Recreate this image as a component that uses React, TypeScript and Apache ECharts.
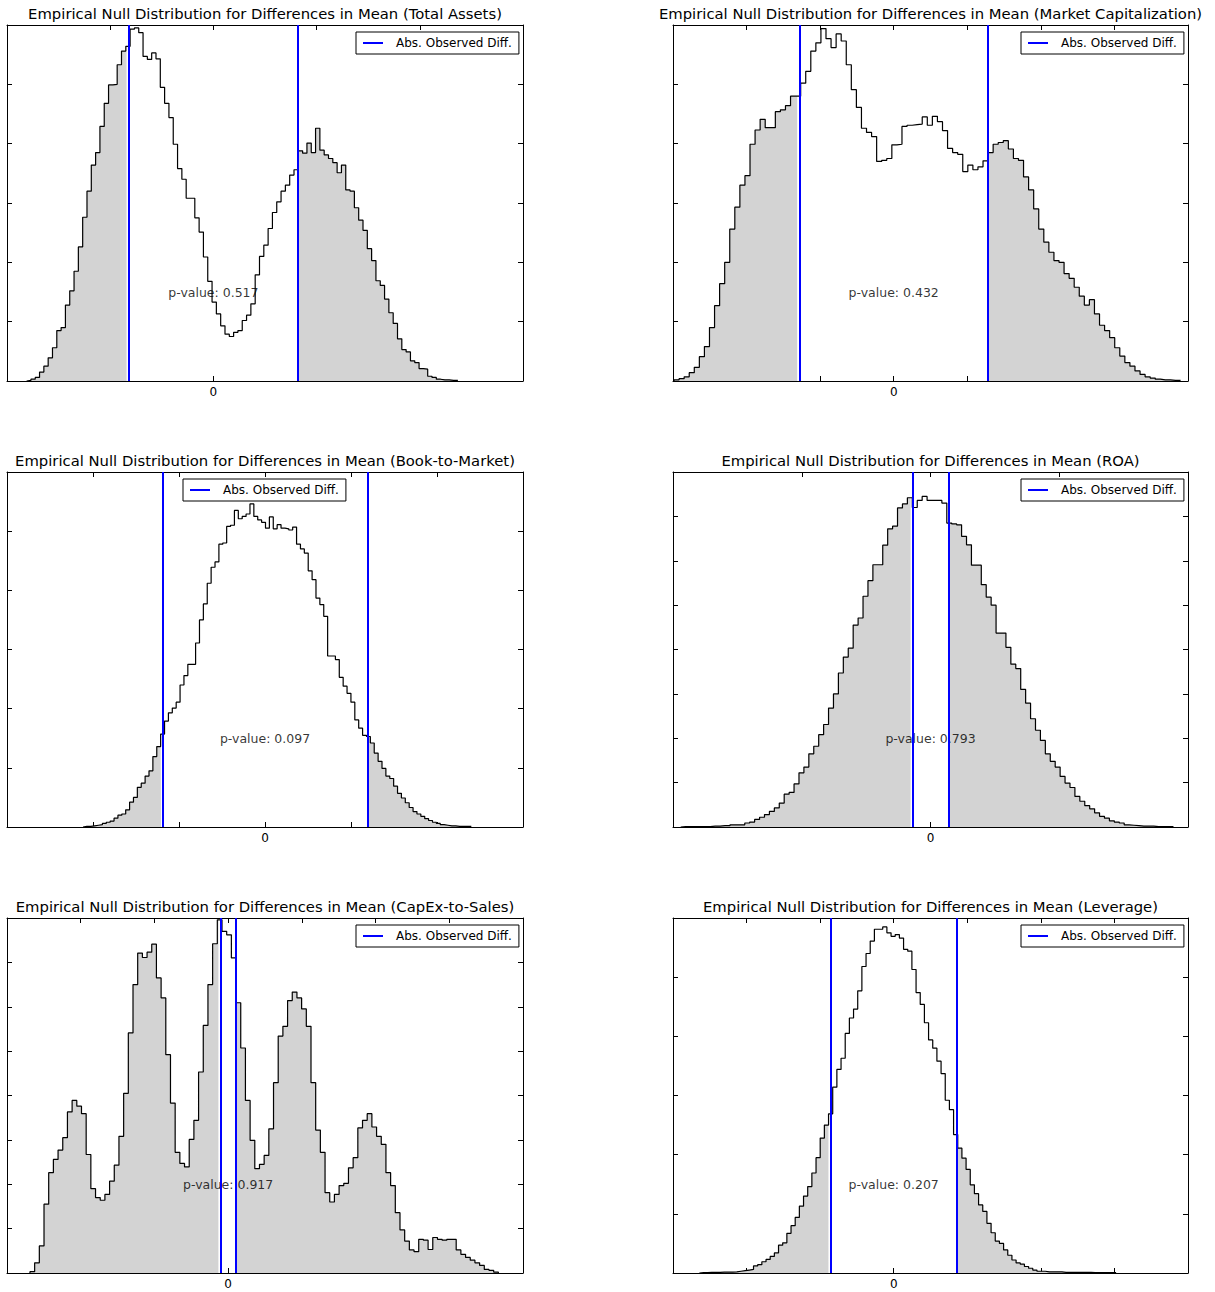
import React, { useEffect, useRef } from "react";
import * as echarts from "echarts";

const FONT = "'DejaVu Sans', 'Liberation Sans', sans-serif";

const titles = [
  "Empirical Null Distribution for Differences in Mean (Total Assets)",
  "Empirical Null Distribution for Differences in Mean (Market Capitalization)",
  "Empirical Null Distribution for Differences in Mean (Book-to-Market)",
  "Empirical Null Distribution for Differences in Mean (ROA)",
  "Empirical Null Distribution for Differences in Mean (CapEx-to-Sales)",
  "Empirical Null Distribution for Differences in Mean (Leverage)",
];

const legendName = "Abs. Observed Diff.";
const pValues = ["0.517", "0.432", "0.097", "0.793", "0.917", "0.207"];
const observedDiff = [0.822, 1.285, 1.186, 0.139, 0.105, 0.86];

// axis extents (in tick units) and bin ranges
const xMins = [-2, -3, -3, -2, -3, -3];
const xMaxs = [3, 4, 3, 2, 4, 4];
const yMaxs = [6, 6, 6, 8, 8, 6];
const binLo = [-1.81, -2.986, -2.1165, -1.94, -2.6885, -2.642];
const binHi = [2.369, 3.899, 2.399, 1.887, 3.6656, 3.023];

const totalAssets = [
  0.01, 0.03, 0.06, 0.15, 0.25, 0.39, 0.56, 0.85, 0.9, 1.28,
  1.52, 1.85, 2.26, 2.76, 3.2, 3.64, 3.85, 4.29, 4.68, 4.99,
  5.0, 5.33, 5.56, 5.64, 5.93, 5.95, 5.87, 5.47, 5.42, 5.53,
  5.43, 4.95, 4.68, 4.44, 3.99, 3.58, 3.4, 3.08, 3.08, 2.75,
  2.51, 2.09, 1.68, 1.33, 1.13, 0.93, 0.79, 0.75, 0.82, 0.85,
  1.02, 1.11, 1.3, 1.79, 2.1, 2.29, 2.57, 2.84, 3.02, 3.2,
  3.3, 3.47, 3.56, 3.88, 3.84, 4.01, 3.85, 4.26, 3.89, 3.81,
  3.75, 3.68, 3.51, 3.64, 3.22, 3.2, 2.92, 2.71, 2.54, 2.23,
  2.03, 1.69, 1.61, 1.38, 1.15, 0.97, 0.71, 0.53, 0.49, 0.34,
  0.31, 0.21, 0.2, 0.08, 0.06, 0.03, 0.02, 0.02, 0.01, 0.01,
];

const marketCap = [
  0.02, 0.04, 0.07, 0.14, 0.23, 0.41, 0.58, 0.9, 1.27, 1.64,
  2.0, 2.56, 2.93, 3.3, 3.46, 3.99, 4.23, 4.41, 4.27, 4.27,
  4.54, 4.57, 4.64, 4.8, 4.8, 5.02, 5.22, 5.56, 5.7, 5.94,
  5.77, 5.62, 5.85, 5.73, 5.33, 4.91, 4.61, 4.26, 4.19, 4.12,
  3.7, 3.72, 3.75, 3.98, 3.99, 4.29, 4.31, 4.32, 4.33, 4.45,
  4.31, 4.46, 4.37, 4.22, 3.92, 3.85, 3.82, 3.53, 3.64, 3.56,
  3.61, 3.71, 3.85, 3.99, 4.02, 4.05, 3.91, 3.75, 3.72, 3.44,
  3.22, 2.9, 2.56, 2.34, 2.17, 2.03, 2.0, 1.81, 1.73, 1.58,
  1.43, 1.28, 1.37, 1.13, 0.94, 0.85, 0.73, 0.56, 0.42, 0.31,
  0.25, 0.17, 0.11, 0.07, 0.05, 0.03, 0.02, 0.02, 0.01, 0.01,
];

const bookToMarket = [
  0.01, 0.01, 0.02, 0.03, 0.04, 0.06, 0.08, 0.1, 0.15, 0.2,
  0.22, 0.29, 0.42, 0.5, 0.67, 0.74, 0.86, 0.95, 1.19, 1.36,
  1.57, 1.79, 1.93, 2.01, 2.11, 2.4, 2.56, 2.75, 2.75, 3.11,
  3.5, 3.77, 4.12, 4.39, 4.48, 4.78, 4.8, 5.08, 5.1, 5.35,
  5.21, 5.25, 5.29, 5.46, 5.25, 5.19, 5.15, 5.05, 5.24, 5.04,
  5.11, 5.05, 5.04, 5.02, 5.07, 4.78, 4.7, 4.63, 4.33, 4.18,
  3.87, 3.76, 3.56, 2.89, 2.89, 2.83, 2.53, 2.38, 2.26, 2.11,
  1.81, 1.67, 1.55, 1.53, 1.42, 1.25, 1.11, 0.99, 0.86, 0.82,
  0.69, 0.57, 0.49, 0.41, 0.33, 0.26, 0.22, 0.18, 0.14, 0.11,
  0.08, 0.06, 0.04, 0.03, 0.02, 0.02, 0.01, 0.01, 0.01, 0.01,
];

const roa = [
  0.01, 0.01, 0.01, 0.01, 0.01, 0.01, 0.02, 0.02, 0.03, 0.03,
  0.05, 0.05, 0.05, 0.09, 0.11, 0.17, 0.22, 0.28, 0.35, 0.43,
  0.54, 0.74, 0.78, 0.97, 1.22, 1.35, 1.65, 1.82, 2.08, 2.31,
  2.68, 3.0, 3.47, 3.83, 4.03, 4.55, 4.71, 5.2, 5.55, 5.91,
  5.91, 6.35, 6.72, 6.78, 7.19, 7.28, 7.42, 7.2, 7.36, 7.45,
  7.36, 7.36, 7.36, 7.3, 6.85, 6.83, 6.81, 6.55, 6.36, 5.9,
  5.9, 5.46, 5.18, 5.0, 4.37, 4.37, 4.05, 3.67, 3.57, 3.1,
  2.79, 2.44, 2.18, 1.95, 1.65, 1.48, 1.35, 1.14, 0.99, 0.89,
  0.69, 0.58, 0.48, 0.41, 0.32, 0.24, 0.2, 0.14, 0.11, 0.09,
  0.05, 0.04, 0.03, 0.02, 0.02, 0.02, 0.01, 0.01, 0.01, 0.01,
];

const capexToSales = [
  0.03, 0.23, 0.61, 1.55, 2.26, 2.56, 2.77, 3.05, 3.63, 3.89,
  3.76, 3.59, 2.67, 1.9, 1.7, 1.64, 1.77, 2.07, 2.43, 3.08,
  4.05, 5.41, 6.5, 7.21, 7.11, 7.23, 7.41, 6.65, 6.2, 4.92,
  3.83, 2.72, 2.47, 2.39, 3.01, 3.44, 4.53, 5.58, 6.5, 7.42,
  7.96, 7.7, 7.62, 7.1, 6.09, 5.07, 3.89, 2.99, 2.35, 2.45,
  2.65, 3.25, 4.29, 5.34, 5.56, 6.14, 6.33, 6.2, 5.95, 5.56,
  4.29, 3.22, 2.72, 1.81, 1.6, 1.77, 1.97, 2.02, 2.37, 2.6,
  3.27, 3.44, 3.59, 3.29, 3.08, 2.9, 2.26, 1.97, 1.36, 0.97,
  0.72, 0.52, 0.48, 0.76, 0.74, 0.53, 0.8, 0.76, 0.74, 0.76,
  0.76, 0.52, 0.42, 0.35, 0.29, 0.23, 0.17, 0.08, 0.06, 0.02,
];

const leverage = [
  0.005, 0.005, 0.01, 0.01, 0.01, 0.015, 0.015, 0.015, 0.02, 0.03,
  0.04, 0.05, 0.06, 0.12, 0.14, 0.19, 0.23, 0.28, 0.34, 0.47,
  0.51, 0.67, 0.8, 0.94, 1.13, 1.3, 1.46, 1.69, 1.95, 2.28,
  2.5, 2.69, 3.14, 3.44, 3.63, 4.05, 4.31, 4.46, 4.77, 5.18,
  5.4, 5.61, 5.81, 5.81, 5.85, 5.75, 5.69, 5.72, 5.66, 5.47,
  5.44, 5.13, 4.74, 4.54, 4.23, 3.94, 3.8, 3.58, 3.37, 2.92,
  2.76, 2.34, 2.11, 1.94, 1.75, 1.49, 1.34, 1.15, 1.04, 0.84,
  0.68, 0.54, 0.5, 0.39, 0.3, 0.22, 0.17, 0.15, 0.11, 0.08,
  0.05, 0.03, 0.03, 0.02, 0.02, 0.02, 0.02, 0.01, 0.01, 0.01,
  0.01, 0.01, 0.01, 0.01, 0.005, 0.005, 0.005, 0.005, 0.005, 0.005,
];

const heights = [totalAssets, marketCap, bookToMarket, roa, capexToSales, leverage];

// layout (pixels)
const LAYOUT = [
  { left: 7, top: 25, width: 516, height: 356, legendLeft: 356, legendTop: 32, titleTop: 6 },
  { left: 673, top: 25, width: 515, height: 356, legendLeft: 1021, legendTop: 32, titleTop: 6 },
  { left: 7, top: 472, width: 516, height: 355, legendLeft: 183, legendTop: 479, titleTop: 453 },
  { left: 673, top: 472, width: 515, height: 355, legendLeft: 1021, legendTop: 479, titleTop: 453 },
  { left: 7, top: 918, width: 516, height: 355, legendLeft: 356, legendTop: 925, titleTop: 899 },
  { left: 673, top: 918, width: 515, height: 355, legendLeft: 1021, legendTop: 925, titleTop: 899 },
];
const FILL_GAP_PX = 2;

function buildOption() {
  const grid: any[] = [];
  const xAxis: any[] = [];
  const yAxis: any[] = [];
  const series: any[] = [];
  const title: any[] = [];
  const legend: any[] = [];

  const axisLine = { show: true, onZero: false, lineStyle: { color: "#000", width: 1 } };
  const axisTick = { show: true, inside: true, length: 5, lineStyle: { color: "#000", width: 1 } };

  for (let p = 0; p < 6; p++) {
    const L = LAYOUT[p];
    grid.push({ left: L.left, top: L.top, width: L.width, height: L.height, show: false });

    const xBase = {
      type: "value",
      gridIndex: p,
      min: xMins[p],
      max: xMaxs[p],
      interval: 1,
      axisLine,
      axisTick,
      splitLine: { show: false },
    };
    xAxis.push({
      ...xBase,
      position: "bottom",
      axisLabel: {
        show: true,
        margin: 5,
        fontFamily: FONT,
        fontSize: 12,
        color: "#000",
        formatter: (v: number) => (Math.abs(v) < 1e-9 ? "0" : ""),
      },
    });
    xAxis.push({ ...xBase, position: "top", axisLabel: { show: false } });

    const yBase = {
      type: "value",
      gridIndex: p,
      min: 0,
      max: yMaxs[p],
      interval: 1,
      axisLine,
      axisTick,
      axisLabel: { show: false },
      splitLine: { show: false },
    };
    yAxis.push({ ...yBase, position: "left" });
    yAxis.push({ ...yBase, position: "right" });

    title.push({
      text: titles[p],
      left: L.left + L.width / 2,
      top: L.titleTop,
      textAlign: "center",
      padding: 0,
      textStyle: { fontFamily: FONT, fontSize: 14.8, fontWeight: "normal", color: "#000" },
    });

    legend.push({
      left: L.legendLeft,
      top: L.legendTop,
      data: [legendName],
      icon: "rect",
      itemWidth: 20,
      itemHeight: 2,
      padding: [4, 7, 4, 7],
      backgroundColor: "#fff",
      borderColor: "#000",
      borderWidth: 1,
      borderRadius: 0,
      selectedMode: false,
      z: 20,
      textStyle: { fontFamily: FONT, fontSize: 12, color: "#000", padding: [0, 0, 0, 8], lineHeight: 14 },
    });

    const h = heights[p];
    const n = h.length;
    const w = (binHi[p] - binLo[p]) / n;
    const d = observedDiff[p];
    const edges = h.map((_, i) => binLo[p] + i * w);
    edges.push(binHi[p]);
    const gap = (FILL_GAP_PX * (xMaxs[p] - xMins[p])) / L.width;

    // left tail fill (step area)
    const cut = -d - gap;
    const leftPts: number[][] = [[edges[0], 0]];
    let lastR = edges[0];
    for (let i = 0; i < n; i++) {
      const x0 = edges[i];
      if (x0 >= cut) break;
      const r = Math.min(edges[i + 1], cut);
      leftPts.push([x0, h[i]]);
      leftPts.push([r, h[i]]);
      lastR = r;
    }
    leftPts.push([lastR, 0]);

    // right tail fill
    const rightPts: number[][] = [];
    for (let i = 0; i < n; i++) {
      const x1 = edges[i + 1];
      if (x1 <= d) continue;
      const l = Math.max(edges[i], d);
      if (rightPts.length === 0) rightPts.push([l, 0]);
      rightPts.push([l, h[i]]);
      rightPts.push([x1, h[i]]);
    }
    rightPts.push([edges[n], 0]);

    [leftPts, rightPts].forEach((pts) => {
      series.push({
        type: "line",
        xAxisIndex: 2 * p,
        yAxisIndex: 2 * p,
        data: pts,
        symbol: "none",
        showSymbol: false,
        silent: true,
        z: 1,
        lineStyle: { width: 0, opacity: 0 },
        areaStyle: { color: "#d3d3d3", opacity: 1 },
      });
    });

    // step outline
    const pts: number[][] = [[edges[0], 0]];
    for (let i = 0; i < n; i++) {
      pts.push([edges[i], h[i]]);
      pts.push([edges[i + 1], h[i]]);
    }
    pts.push([edges[n], 0]);
    series.push({
      type: "line",
      xAxisIndex: 2 * p,
      yAxisIndex: 2 * p,
      data: pts,
      symbol: "none",
      showSymbol: false,
      silent: true,
      z: 3,
      lineStyle: { color: "#000", width: 1.2 },
    });

    // p-value text
    series.push({
      type: "scatter",
      xAxisIndex: 2 * p,
      yAxisIndex: 2 * p,
      data: [[0, yMaxs[p] * 0.25]],
      symbolSize: 1,
      silent: true,
      z: 2,
      itemStyle: { color: "transparent" },
      label: {
        show: true,
        position: "inside",
        formatter: "p-value: " + pValues[p],
        fontFamily: FONT,
        fontSize: 12.5,
        color: "#000",
      },
    });

    // observed difference lines
    series.push({
      type: "line",
      name: legendName,
      xAxisIndex: 2 * p,
      yAxisIndex: 2 * p,
      data: [],
      symbol: "none",
      silent: true,
      z: 4,
      itemStyle: { color: "#0000ff" },
      lineStyle: { color: "#0000ff", width: 2 },
      markLine: {
        symbol: ["none", "none"],
        silent: true,
        label: { show: false },
        emphasis: { disabled: true },
        lineStyle: { color: "#0000ff", width: 2, type: "solid" },
        data: [{ xAxis: -d }, { xAxis: d }],
      },
    });
  }

  return {
    animation: false,
    backgroundColor: "#fff",
    title,
    legend,
    grid,
    xAxis,
    yAxis,
    series,
  };
}

export default function App() {
  const ref = useRef<HTMLDivElement>(null);
  useEffect(() => {
    if (!ref.current) return;
    const chart = echarts.init(ref.current, undefined, { renderer: "svg" });
    chart.setOption(buildOption() as any);
    return () => chart.dispose();
  }, []);
  return (
    <div
      ref={ref}
      style={{ position: "absolute", left: 0, top: 0, width: 1215, height: 1292, background: "#fff" }}
    />
  );
}
